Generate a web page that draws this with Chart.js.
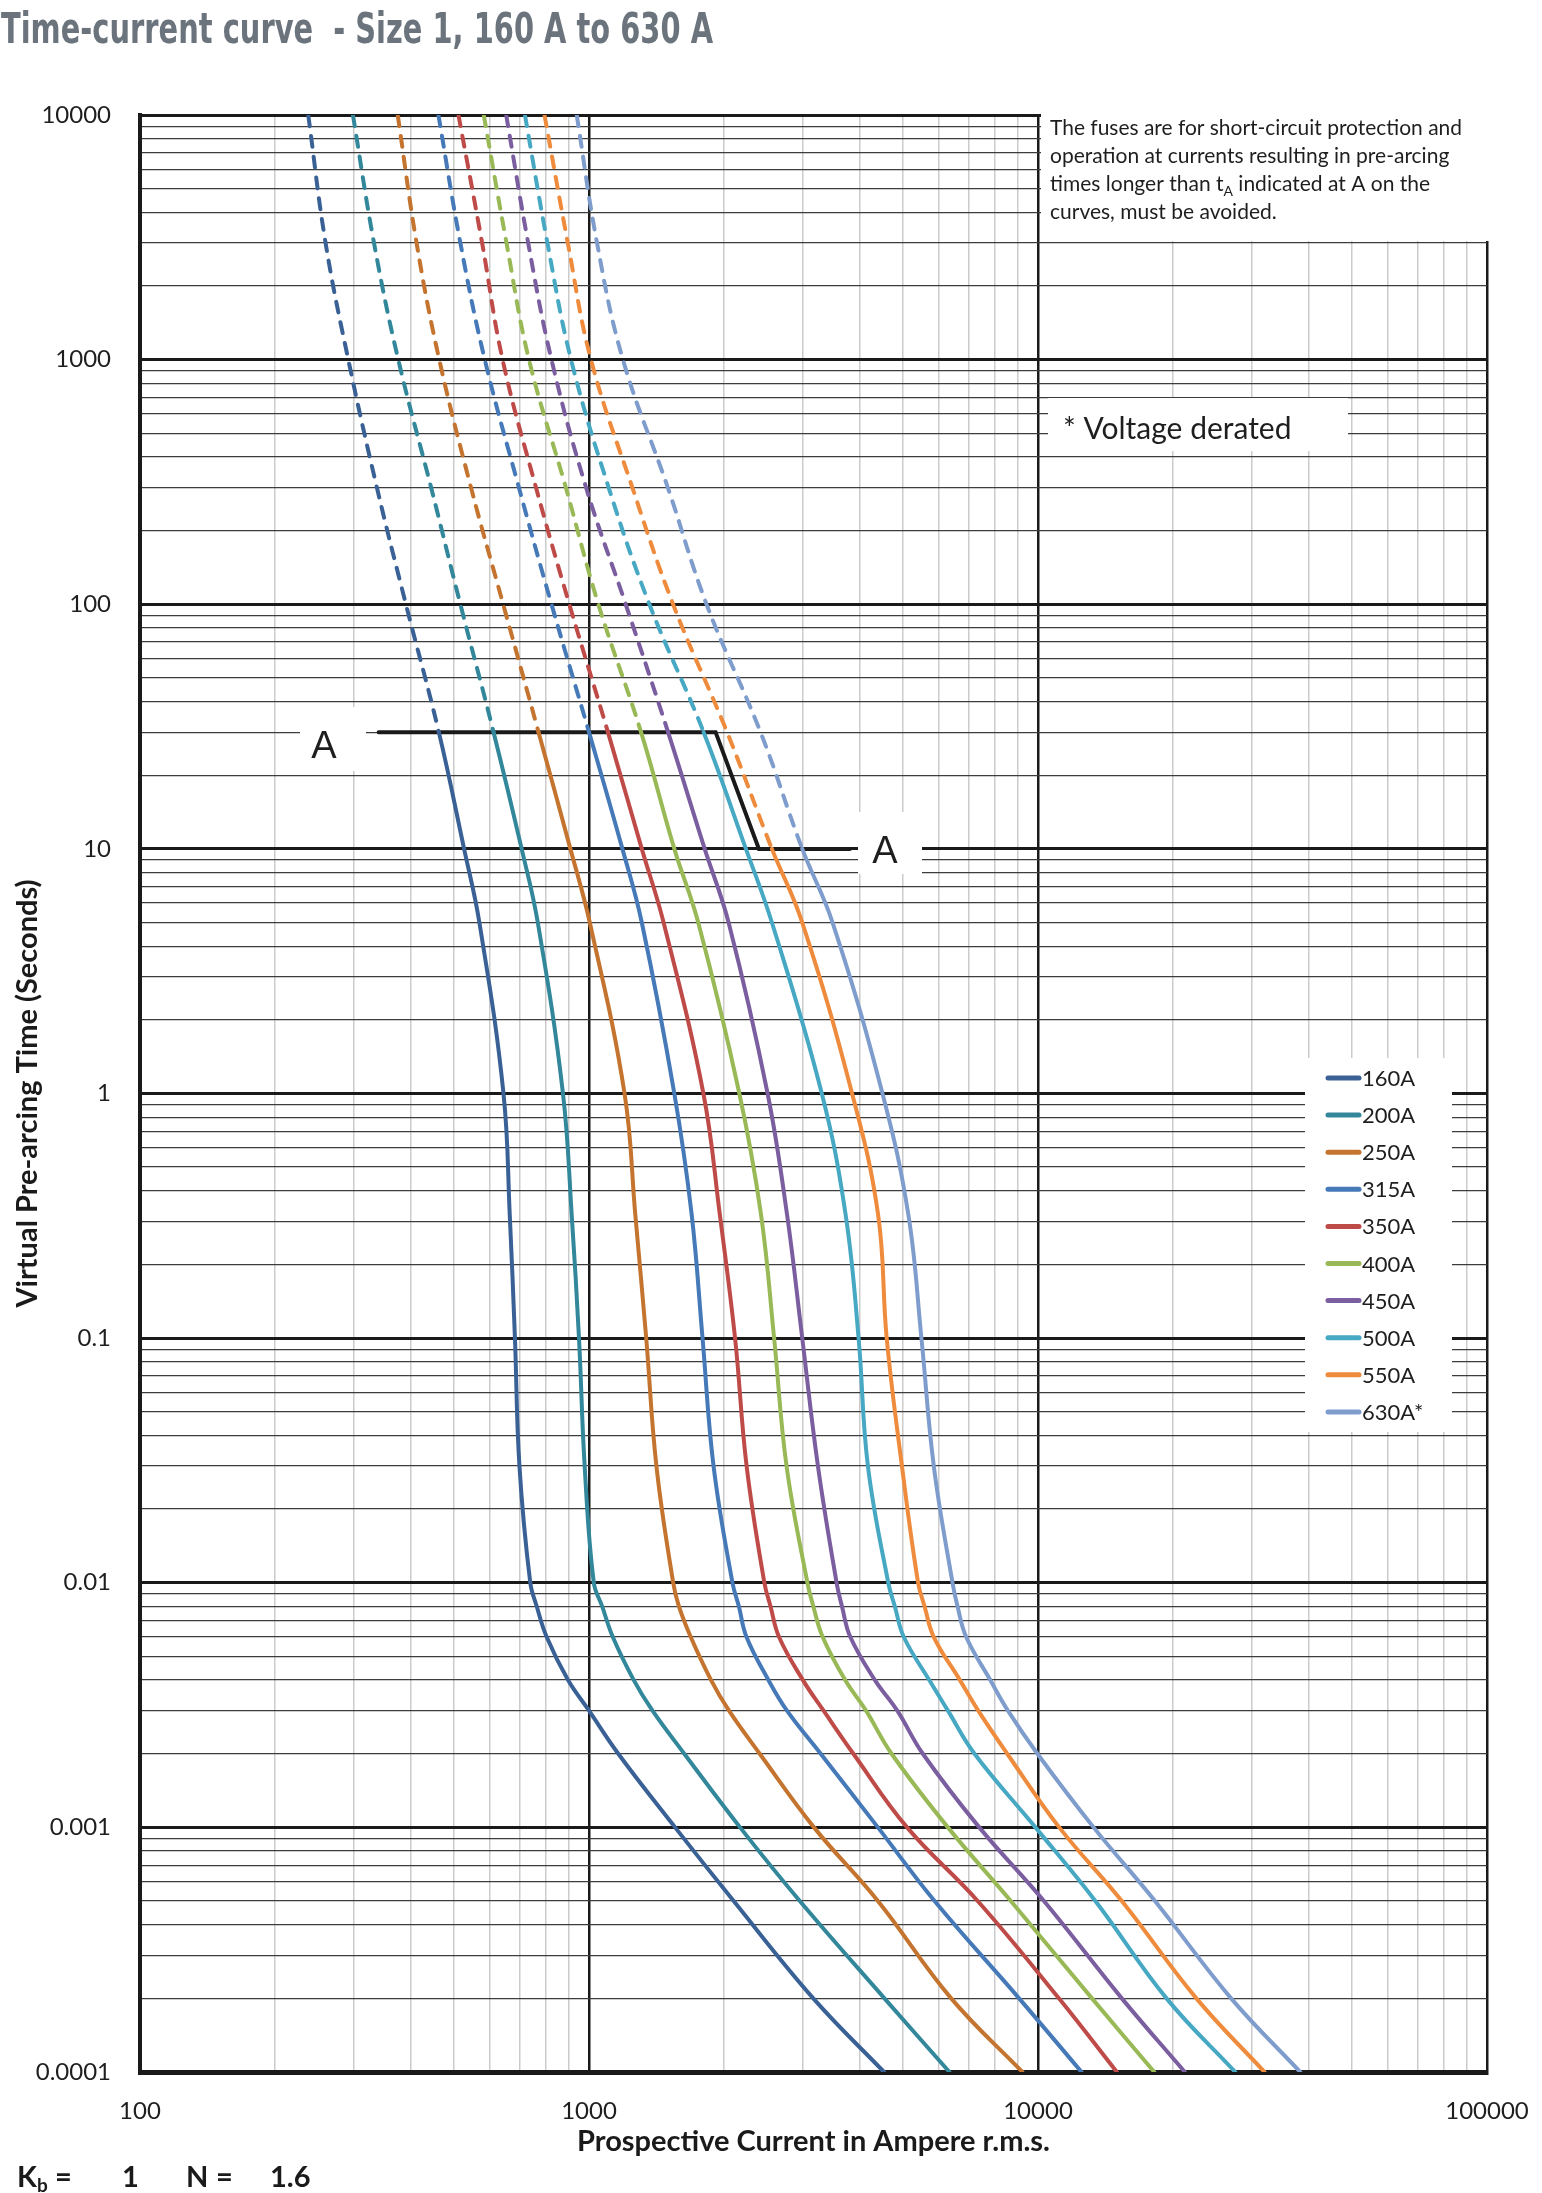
<!DOCTYPE html>
<html lang="en">
<head>
<meta charset="UTF-8">
<title>Time-current curve - Size 1, 160 A to 630 A</title>
<script src="https://cdn.jsdelivr.net/npm/chart.js"></script>
<style>
    html, body { margin: 0; padding: 0; background: #ffffff; }
    canvas { display: block; }
</style>
</head>
<body>
<canvas id="tcChart" width="1542" height="2193"></canvas>
<script>
const times = [10000, 3000, 1000, 300, 100, 30, 10, 5, 1, 0.32, 0.1, 0.03, 0.01, 0.008, 0.006, 0.004, 0.003, 0.002, 0.001, 0.0005, 0.0002, 0.0001];

const fuseLabels = ["160A", "200A", "250A", "315A", "350A", "400A", "450A", "500A", "550A", "630A*"];

// Prospective current (A r.m.s.) for each time above
const current160 = [237, 259, 291, 337, 391, 463, 527, 570, 645, 666, 684, 700, 740, 765, 805, 898, 1000, 1162, 1555, 2100, 3159, 4540];
const current200 = [298, 332, 376, 445, 517, 613, 708, 769, 875, 915, 950, 978, 1025, 1070, 1130, 1258, 1385, 1630, 2170, 2948, 4550, 6350];
const current250 = [375, 413, 464, 546, 644, 772, 909, 1004, 1200, 1268, 1341, 1413, 1540, 1586, 1685, 1870, 2050, 2400, 3170, 4400, 6407, 9230];
const current315 = [462, 517, 586, 698, 825, 1000, 1187, 1311, 1549, 1693, 1790, 1894, 2087, 2157, 2243, 2510, 2760, 3281, 4400, 5884, 9076, 12500];
const current350 = [512, 578, 642, 762, 904, 1102, 1311, 1466, 1798, 1956, 2115, 2244, 2458, 2537, 2650, 2995, 3330, 3880, 5110, 7340, 11130, 14980];
const current400 = [583, 655, 735, 888, 1049, 1306, 1549, 1751, 2162, 2416, 2584, 2754, 3065, 3160, 3315, 3720, 4140, 4720, 6300, 8700, 13190, 18150];
const current450 = [654, 732, 825, 985, 1207, 1500, 1810, 2046, 2499, 2761, 2985, 3235, 3560, 3660, 3820, 4333, 4860, 5540, 7400, 10310, 15370, 21230];
const current500 = [720, 808, 912, 1106, 1363, 1800, 2236, 2555, 3300, 3728, 3985, 4180, 4640, 4800, 5025, 5725, 6300, 7220, 9870, 13420, 19330, 27500];
const current550 = [796, 897, 1010, 1249, 1539, 2030, 2555, 2985, 3854, 4404, 4603, 4977, 5407, 5590, 5860, 6700, 7360, 8540, 11150, 15370, 22530, 31950];
const current630 = [939, 1042, 1190, 1498, 1827, 2410, 2985, 3487, 4504, 5143, 5500, 5860, 6450, 6620, 6920, 7830, 8570, 9970, 13300, 18220, 26920, 38380];

const fuseCurrents = [current160, current200, current250, current315, current350, current400, current450, current500, current550, current630];

// curves are dashed above this time (t_A)
const dashedAbove = [30, 30, 30, 30, 30, 30, 30, 30, 10, 10];

// the "A" boundary line
const aLineCurrents = [340, 1914, 2390, 3811];
const aLineTimes = [30, 30, 10, 10];

// decade tick labels
const xDecades = [100, 1000, 10000, 100000];
const yDecades = [0.0001, 0.001, 0.01, 0.1, 1, 10, 100, 1000, 10000];

const fuseColors = ["#3a6196", "#32879b", "#c4742f", "#4579b8", "#bf4b49", "#98b955", "#7b5ea0", "#47a8c3", "#ef8b3c", "#7e9dcd"];

function isDecade(v) {
    const l = Math.log10(v);
    return Math.abs(l - Math.round(l)) < 1e-9;
}

// gridline ticks 1..9 x 10^n between min and max
function logTicks(min, max) {
    const ticks = [];
    for (let e = Math.round(Math.log10(min)); e < Math.round(Math.log10(max)); e++) {
        for (let s = 1; s <= 9; s++) {
            ticks.push({ value: parseFloat((s * Math.pow(10, e)).toPrecision(3)) });
        }
    }
    ticks.push({ value: max });
    return ticks;
}

function inList(list, v) {
    return list.some(d => Math.abs(d - v) / d < 1e-9);
}

const datasets = fuseCurrents.map((cur, i) => ({
    label: fuseLabels[i],
    data: cur.map((c, k) => ({ x: c, y: times[k] })),
    borderColor: fuseColors[i],
    backgroundColor: fuseColors[i],
    borderWidth: 4,
    borderCapStyle: "round",
    pointRadius: 0,
    tension: 0.4,
    order: 0,
    segment: {
        borderDash: ctx => ctx.p1.parsed.y >= dashedAbove[i] - 1e-9 ? [11, 10] : undefined
    }
}));

datasets.push({
    label: "A",
    data: aLineCurrents.map((c, k) => ({ x: c, y: aLineTimes[k] })),
    borderColor: "#1a1a1a",
    borderWidth: 4,
    borderCapStyle: "round",
    pointRadius: 0,
    tension: 0,
    order: 1
});

// texts, white boxes and the legend drawn on top of the plot
const overlay = {
    id: "overlay",
    afterDraw(chart) {
        const ctx = chart.ctx;
        ctx.save();

        // title
        ctx.fillStyle = "#6b747d";
        ctx.font = 'bold 42px "Liberation Sans Narrow", "DejaVu Sans Condensed", sans-serif';
        ctx.textAlign = "left";
        ctx.textBaseline = "alphabetic";
        ctx.fillText("Time-current curve  - Size 1, 160 A to 630 A", 1, 43, 712);

        // note box top right
        ctx.fillStyle = "#ffffff";
        ctx.fillRect(1041, 0, 501, 241);
        ctx.fillStyle = "#1e1e1e";
        ctx.font = '21px Lato, sans-serif';
        ctx.fillText("The fuses are for short-circuit protection and", 1050, 135, 412);
        ctx.fillText("operation at currents resulting in pre-arcing", 1050, 163, 412);
        let x = 1050;
        ctx.fillText("times longer than t", x, 191);
        x += ctx.measureText("times longer than t").width;
        ctx.font = '14px Lato, sans-serif';
        ctx.fillText("A", x, 196);
        x += ctx.measureText("A").width;
        ctx.font = '21px Lato, sans-serif';
        ctx.fillText(" indicated at A on the", x, 191);
        ctx.fillText("curves, must be avoided.", 1050, 219);

        // voltage derated note
        ctx.fillStyle = "#ffffff";
        ctx.fillRect(1048, 398, 300, 53);
        ctx.fillStyle = "#1e1e1e";
        ctx.font = '30px Lato, sans-serif';
        ctx.fillText("* Voltage derated", 1063, 439);

        // "A" labels
        ctx.fillStyle = "#ffffff";
        ctx.fillRect(300, 707, 66, 64);
        ctx.fillRect(858, 812, 64, 62);
        ctx.fillStyle = "#1e1e1e";
        ctx.font = '38px "Liberation Sans", sans-serif';
        ctx.textAlign = "center";
        ctx.fillText("A", 324, 758);
        ctx.fillText("A", 885, 863);

        // legend
        ctx.fillStyle = "#ffffff";
        ctx.fillRect(1305, 1058, 147, 374);
        ctx.font = '22px Lato, sans-serif';
        ctx.textAlign = "left";
        ctx.textBaseline = "middle";
        ctx.lineCap = "round";
        for (let i = 0; i < fuseLabels.length; i++) {
            const y = 1078 + i * 37.1;
            ctx.strokeStyle = fuseColors[i];
            ctx.lineWidth = 5;
            ctx.beginPath();
            ctx.moveTo(1328, y);
            ctx.lineTo(1359, y);
            ctx.stroke();
            ctx.fillStyle = "#1e1e1e";
            ctx.fillText(fuseLabels[i], 1362, y + 1);
        }

        // Kb / N line
        ctx.textBaseline = "alphabetic";
        ctx.fillStyle = "#1a1a1a";
        ctx.font = 'bold 29px Lato, sans-serif';
        ctx.fillText("K", 17, 2187);
        ctx.font = 'bold 19px Lato, sans-serif';
        ctx.fillText("b", 37, 2192);
        ctx.font = 'bold 29px Lato, sans-serif';
        ctx.fillText("=", 55, 2187);
        ctx.fillText("1", 122, 2187);
        ctx.fillText("N", 186, 2187);
        ctx.fillText("=", 216, 2187);
        ctx.fillText("1.6", 270, 2187);

        ctx.restore();
    }
};

Chart.defaults.font.family = "Lato, sans-serif";
Chart.defaults.color = "#1e1e1e";

new Chart(document.getElementById("tcChart"), {
    type: "line",
    data: { datasets: datasets },
    options: {
        responsive: false,
        animation: false,
        devicePixelRatio: 1,
        layout: { padding: { top: 115, right: 55, bottom: 0, left: 0 } },
        plugins: {
            legend: { display: false },
            tooltip: { enabled: false }
        },
        scales: {
            x: {
                type: "logarithmic",
                min: 100,
                max: 100000,
                afterFit: s => { s.height = 121; s.paddingLeft = 0; s.paddingRight = 0; },
                afterBuildTicks: s => { s.ticks = logTicks(100, 100000); },
                grid: {
                    drawTicks: false,
                    color: c => c.tick && isDecade(c.tick.value) ? "#1a1a1a" : "#cbcbcb",
                    lineWidth: c => c.tick && isDecade(c.tick.value) ? 2.5 : 1.5
                },
                border: { display: true, color: "#1a1a1a", width: 5 },
                ticks: {
                    autoSkip: false,
                    maxRotation: 0,
                    padding: 25,
                    font: { size: 24 },
                    color: "#1e1e1e",
                    callback: v => inList(xDecades, v) ? String(v) : ""
                },
                title: {
                    display: true,
                    text: "Prospective Current in Ampere r.m.s.",
                    font: { size: 29, weight: "bold" },
                    color: "#1a1a1a",
                    padding: { top: 0, bottom: 34 }
                }
            },
            y: {
                type: "logarithmic",
                min: 0.0001,
                max: 10000,
                afterFit: s => { s.width = 140; },
                afterBuildTicks: s => { s.ticks = logTicks(0.0001, 10000); },
                grid: {
                    drawTicks: false,
                    color: c => c.tick && isDecade(c.tick.value) ? "#1a1a1a" : "#3c3c3c",
                    lineWidth: c => c.tick && isDecade(c.tick.value) ? 3 : 1.3
                },
                border: { display: true, color: "#1a1a1a", width: 4 },
                ticks: {
                    autoSkip: false,
                    padding: 29,
                    font: { size: 24 },
                    color: "#1e1e1e",
                    callback: v => inList(yDecades, v) ? String(v) : ""
                },
                title: {
                    display: true,
                    text: "Virtual Pre-arcing Time (Seconds)",
                    font: { size: 29, weight: "bold" },
                    color: "#1a1a1a",
                    padding: { top: 10, bottom: 0 }
                }
            }
        }
    },
    plugins: [overlay]
});
</script>
</body>
</html>
